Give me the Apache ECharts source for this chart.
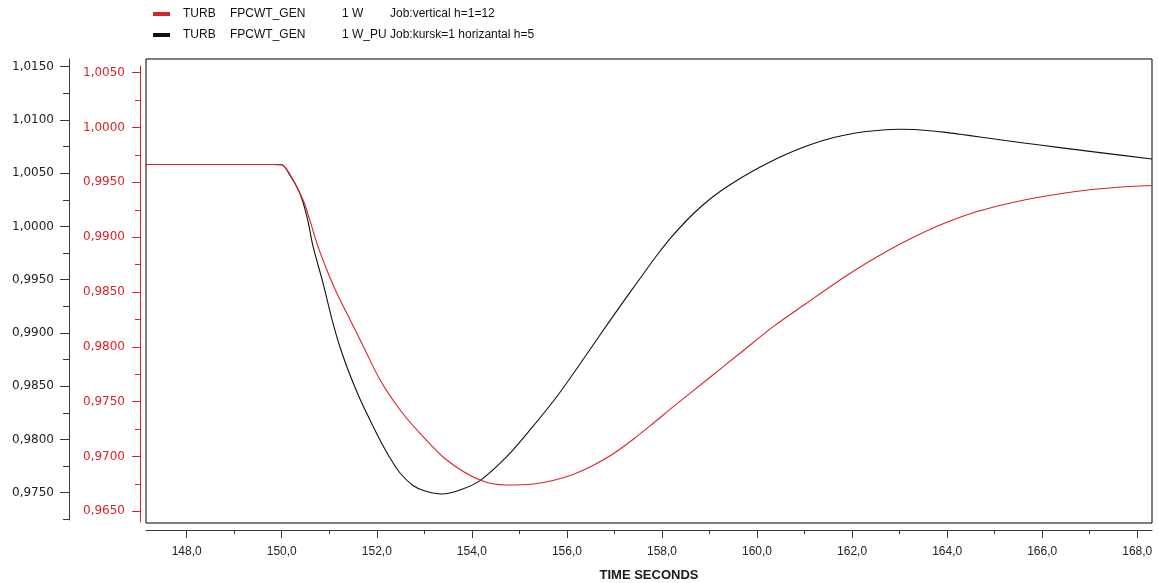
<!DOCTYPE html>
<html>
<head>
<meta charset="utf-8">
<script src="https://cdn.jsdelivr.net/npm/echarts@6/dist/echarts.min.js"></script>
<style>
  html, body { margin: 0; padding: 0; background: #fff; }
  #chart { width: 1159px; height: 583px; }
</style>
</head>
<body>
<div id="chart"></div>
<script>
// Legend text, split into its tab-aligned columns
const legendParts = [
  ['TURB', 'FPCWT_GEN', '1 W', 'Job:vertical h=1=12'],
  ['TURB', 'FPCWT_GEN', '1 W_PU', 'Job:kursk=1 horizantal h=5']
];
const seriesNames = legendParts.map(p => p.join(' '));

// Black trace (left outer axis): time [s]
const timeBlack = [147.1, 149.5, 149.8, 150.0, 150.17, 150.38, 150.53, 150.66, 150.87, 151.05, 151.225,
  151.436, 151.646, 151.857, 152.067, 152.278, 152.488, 152.761, 153.014, 153.365, 153.75, 154.171,
  154.733, 155.223, 155.785, 156.275, 156.696, 157.117, 157.538, 157.874, 158.211, 158.548, 158.884,
  159.221, 159.558, 159.894, 160.231, 160.567, 160.904, 161.241, 161.577, 161.914, 162.25, 162.587,
  163.008, 163.327, 163.643, 163.959, 164.274, 164.691, 165.532, 166.374, 167.216, 168.31];
const valueBlack = [1.00582, 1.00582, 1.00582, 1.00580, 1.00483, 1.00311, 1.00092, 0.99810, 0.99466, 0.99140, 0.98868,
  0.98605, 0.98380, 0.98183, 0.97995, 0.97826, 0.97685, 0.97568, 0.97516, 0.97488, 0.97525, 0.97613,
  0.97838, 0.98089, 0.98401, 0.98708, 0.98981, 0.99250, 0.99511, 0.99718, 0.99906, 1.00070, 1.00211,
  1.00328, 1.00427, 1.00516, 1.00596, 1.00668, 1.00732, 1.00786, 1.00831, 1.00863, 1.00889, 1.00904,
  1.00912, 1.00910, 1.00898, 1.00883, 1.00865, 1.00840, 1.00789, 1.00740, 1.00693, 1.00633];

// Red trace (left inner axis): time [s]; it starts at the inner axis line
const timeRed = [147.017, 149.5, 149.8, 150.0, 150.17, 150.45, 150.59, 150.74, 150.95, 151.16, 151.44, 151.72,
  152.07, 152.49, 152.91, 153.47, 154.17, 154.73, 155.292, 155.707, 156.128, 156.548, 156.969, 157.39,
  157.811, 158.238, 158.94, 159.64, 160.34, 161.04, 161.745, 162.271, 162.797, 163.323, 163.849, 164.375,
  164.901, 165.427, 165.953, 166.479, 167.005, 167.531, 168.31];
const valueRed = [0.99663, 0.99663, 0.99663, 0.99661, 0.99576, 0.99339, 0.99157, 0.98944, 0.98701, 0.98488, 0.98245, 0.98001,
  0.97697, 0.97424, 0.97211, 0.96968, 0.96785, 0.96740, 0.96749, 0.96781, 0.96836, 0.96918, 0.97023, 0.97155,
  0.97301, 0.97454, 0.97697, 0.97941, 0.98184, 0.98397, 0.98609, 0.98755, 0.98888, 0.99006, 0.99111, 0.99198,
  0.99266, 0.99321, 0.99366, 0.99403, 0.99432, 0.99453, 0.99471];

// Tick positions
const timeMajorTicks = [148, 150, 152, 154, 156, 158, 160, 162, 164, 166, 168];
const timeMinorTicks = [149, 151, 153, 155, 157, 159, 161, 163, 165, 167];
const blackMajorTicks = [0.975, 0.980, 0.985, 0.990, 0.995, 1.000, 1.005, 1.010, 1.015];
const blackMinorTicks = [0.9725, 0.9775, 0.9825, 0.9875, 0.9925, 0.9975, 1.0025, 1.0075, 1.0125];
const redMajorTicks = [0.965, 0.970, 0.975, 0.980, 0.985, 0.990, 0.995, 1.000, 1.005];
const redMinorTicks = [0.9675, 0.9725, 0.9775, 0.9825, 0.9875, 0.9925, 0.9975, 1.0025];

const RED = '#d8232a';
const BLACK = '#111111';
const AXIS_GREY = '#3a3a3a';

// Scale ranges of the plot box and the two left axes
const timeMin = 147.144, timeMax = 168.31;
const blackPlotMin = 0.972155, blackPlotMax = 1.015723;
const redPlotMin = 0.963933, redPlotMax = 1.006249;
const blackAxisMin = 0.972437, blackAxisMax = 1.015723;
const redAxisMin = 0.964024, redAxisMax = 1.005611;

const comma = (v, d) => v.toFixed(d).replace('.', ',');
const zip = (xs, ys) => xs.map((x, i) => [x, ys[i]]);

const hiddenX = gi => ({ type: 'value', gridIndex: gi, show: false, min: 0, max: 1 });

function decorY(gi, min, max, color, ticks, tickLen, withLabels, lineColor) {
  return {
    type: 'value', gridIndex: gi, min, max, position: 'left',
    splitLine: { show: false },
    axisLine: { show: withLabels, lineStyle: { color: lineColor, width: 1 } },
    axisTick: { show: true, inside: false, length: tickLen, customValues: ticks,
      lineStyle: { color: lineColor, width: 1 } },
    axisLabel: withLabels ? {
      show: true, customValues: ticks, margin: 15, color,
      fontFamily: 'DejaVu Sans', fontSize: 12,
      formatter: v => comma(v, 4)
    } : { show: false }
  };
}

const chart = echarts.init(document.getElementById('chart'), null, { renderer: 'canvas' });

chart.setOption({
  animation: false,
  backgroundColor: '#ffffff',
  legend: {
    orient: 'vertical',
    left: 148, top: 2,
    icon: 'rect', itemWidth: 17, itemHeight: 4, itemGap: 7,
    data: seriesNames,
    formatter: name => {
      const p = legendParts[seriesNames.indexOf(name)];
      return `{s| }{a|${p[0]}}{b|${p[1]}}{c|${p[2]}}{d|${p[3]}}`;
    },
    textStyle: {
      color: '#111', fontFamily: 'Liberation Sans', fontSize: 12, lineHeight: 14,
      rich: {
        s: { width: 8 },
        a: { width: 47, fontSize: 12, fontFamily: 'Liberation Sans' },
        b: { width: 112, fontSize: 12, fontFamily: 'Liberation Sans' },
        c: { width: 48, fontSize: 12, fontFamily: 'Liberation Sans' },
        d: { fontSize: 12, fontFamily: 'Liberation Sans' }
      }
    }
  },
  grid: [
    { left: 146, top: 59, width: 1006, height: 464, show: true, borderColor: '#000', borderWidth: 1,
      backgroundColor: 'transparent', containLabel: false, outerBoundsMode: 'none' },
    { left: 140, top: 66, width: 10, height: 456, containLabel: false, outerBoundsMode: 'none' },
    { left: 69, top: 59, width: 10, height: 461, containLabel: false, outerBoundsMode: 'none' }
  ],
  xAxis: [
    {
      type: 'value', gridIndex: 0, min: timeMin, max: timeMax, position: 'bottom', offset: 7,
      splitLine: { show: false },
      axisLine: { show: true, lineStyle: { color: AXIS_GREY, width: 1 } },
      axisTick: { show: true, length: 8, customValues: timeMajorTicks, lineStyle: { color: AXIS_GREY } },
      axisLabel: { show: true, customValues: timeMajorTicks, margin: 16, color: '#222',
        fontFamily: 'Liberation Sans', fontSize: 12, formatter: v => comma(v, 1) },
      name: 'TIME SECONDS', nameLocation: 'middle', nameGap: 39,
      nameTextStyle: { fontFamily: 'Liberation Sans', fontWeight: 'bold', fontSize: 13, color: '#1a1a1a' }
    },
    {
      type: 'value', gridIndex: 0, min: timeMin, max: timeMax, position: 'bottom', offset: 7,
      splitLine: { show: false },
      axisLine: { show: false },
      axisTick: { show: true, length: 4, customValues: timeMinorTicks, lineStyle: { color: AXIS_GREY } },
      axisLabel: { show: false }
    },
    hiddenX(1),
    hiddenX(2)
  ],
  yAxis: [
    { type: 'value', gridIndex: 0, min: blackPlotMin, max: blackPlotMax, show: false, splitLine: { show: false } },
    { type: 'value', gridIndex: 0, min: redPlotMin, max: redPlotMax, show: false, splitLine: { show: false } },
    decorY(1, redAxisMin, redAxisMax, RED, redMajorTicks, 8, true, RED),
    decorY(1, redAxisMin, redAxisMax, RED, redMinorTicks, 5, false, RED),
    decorY(2, blackAxisMin, blackAxisMax, '#222', blackMajorTicks, 9, true, AXIS_GREY),
    decorY(2, blackAxisMin, blackAxisMax, '#222', blackMinorTicks, 6, false, AXIS_GREY)
  ],
  series: [
    {
      name: seriesNames[1], type: 'line', xAxisIndex: 0, yAxisIndex: 0,
      data: zip(timeBlack, valueBlack), showSymbol: false, smooth: 0.3,
      color: BLACK, lineStyle: { color: BLACK, width: 1.1 }, clip: true
    },
    {
      name: seriesNames[0], type: 'line', xAxisIndex: 0, yAxisIndex: 1,
      data: zip(timeRed, valueRed), showSymbol: false, smooth: 0.3,
      color: RED, lineStyle: { color: RED, width: 1.1 }, clip: false
    }
  ]
});
</script>
</body>
</html>
